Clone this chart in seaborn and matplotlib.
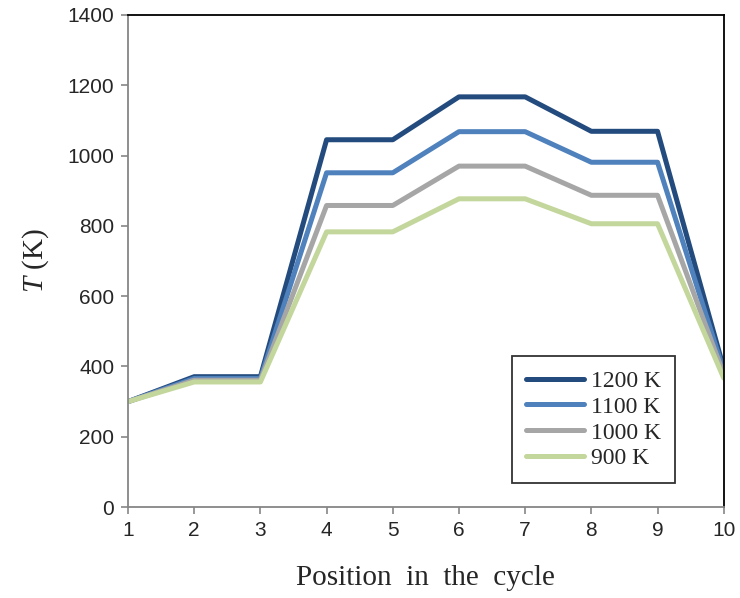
import numpy as np
import pandas as pd
import matplotlib
matplotlib.use("Agg")
import matplotlib.pyplot as plt
import seaborn as sns

# Temperature at each position of the cycle for four peak temperatures
positions = [1, 2, 3, 4, 5, 6, 7, 8, 9, 10]
t_1200 = [300, 371, 371, 1045, 1045, 1167, 1167, 1069, 1069, 395]
t_1100 = [300, 366, 366, 951, 951, 1068, 1068, 981, 981, 388]
t_1000 = [300, 361, 361, 858, 858, 970, 970, 887, 887, 378]
t_900 = [300, 356, 356, 783, 783, 877, 877, 806, 806, 367]
series_labels = ["1200 K", "1100 K", "1000 K", "900 K"]
colors = ["#234B7E", "#4F81BD", "#A6A6A6", "#C3D69B"]

frames = []
for label, vals in zip(series_labels, [t_1200, t_1100, t_1000, t_900]):
    frames.append(pd.DataFrame({"pos": positions, "T": vals, "case": label}))
df = pd.concat(frames, ignore_index=True)

sns.set_style("white")
plt.rcParams["font.family"] = ["Liberation Sans", "DejaVu Sans"]
plt.rcParams["mathtext.fontset"] = "custom"
plt.rcParams["mathtext.rm"] = "Liberation Serif"
plt.rcParams["mathtext.it"] = "Liberation Serif:italic"

fig = plt.figure(figsize=(7.4, 5.98), dpi=100)
ax = fig.add_axes([0.173, 0.152, 0.805, 0.823])

sns.lineplot(data=df, x="pos", y="T", hue="case", hue_order=series_labels,
             palette=colors, linewidth=3.6, ax=ax, legend=True)

ax.set_xlim(1, 10)
ax.set_ylim(0, 1400)
ax.set_xticks(positions)
ax.set_yticks(np.arange(0, 1401, 200))
ax.tick_params(axis="both", direction="out", length=5, width=1.2,
               color="#868686", labelsize=15, pad=5, left=True, bottom=True)

for side in ["left", "bottom"]:
    ax.spines[side].set_color("#868686")
    ax.spines[side].set_linewidth(1.3)
for side in ["top", "right"]:
    ax.spines[side].set_color("black")
    ax.spines[side].set_linewidth(1.3)

ax.set_xlabel("Position  in  the  cycle", family="Liberation Serif", fontsize=21, labelpad=18)
ax.set_ylabel(r"$T$ (K)", family="Liberation Serif", fontsize=21, labelpad=12)

leg = ax.legend(loc="lower right", bbox_to_anchor=(0.918, 0.048), frameon=True,
                fancybox=False, edgecolor="black", handlelength=2.45,
                handletextpad=0.3, borderpad=0.6, labelspacing=0.18,
                borderaxespad=0, prop={"family": "Liberation Serif", "size": 17})
leg.get_frame().set_linewidth(1.3)
for h in leg.get_lines():
    h.set_linewidth(3.6)
    h.set_solid_capstyle("round")

fig.savefig("out.png", dpi=100)
